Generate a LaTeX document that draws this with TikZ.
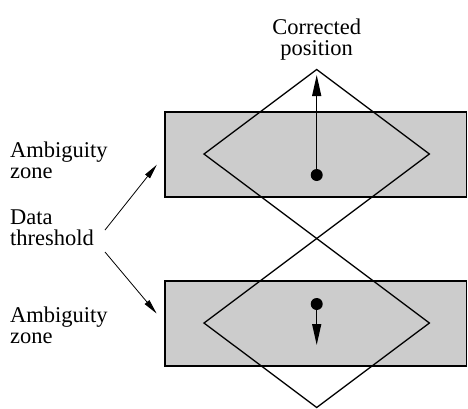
\documentclass[tikz,border=0pt]{standalone}
\usepackage{fontspec}
\setmainfont{Liberation Serif}
\usetikzlibrary{arrows.meta,calc}
\begin{document}
\begin{tikzpicture}[x=1pt,y=-1pt,
  lbl/.style={inner sep=0pt,align=left,font=\fontsize{22.5}{21}\selectfont},
  zone/.style={draw=black,fill=zonegray,line width=1.4pt},
  edge/.style={draw=black,line width=1.3pt,line join=miter},
  dotarrow/.style={line width=1.3pt,-{Triangle[length=21pt,width=9pt]}},
  thin/.style={line width=0.8pt,-{Triangle[length=15pt,width=6pt]}},
  spot/.style={circle,fill=black,inner sep=0pt,minimum size=12pt}]
\definecolor{zonegray}{RGB}{204,204,204}
\useasboundingbox (0,0) rectangle (468,408);
% zones
\draw[zone] (165,112) rectangle (466.5,197);
\draw[zone] (165,281) rectangle (466.5,366);
\coordinate (r1w) at (165,154.5);
\coordinate (r2w) at (165,323.5);
% diamond vertices
\coordinate (top) at (316.7,69.5);
\coordinate (l1) at (204,154);
\coordinate (r1) at (429.4,154);
\coordinate (mid) at (316.7,238.5);
\coordinate (l2) at (204,323);
\coordinate (r2) at (429.4,323);
\coordinate (bot) at (316.7,407.5);
\draw[edge] (top) -- (l1) -- (mid) -- (r1) -- cycle;
\draw[edge] (mid) -- (l2) -- (bot) -- (r2) -- cycle;
% dots and arrows
\node[spot] (d1) at (316.7,175) {};
\node[spot] (d2) at (316.7,304) {};
\coordinate (t1) at (316.7,75);
\coordinate (t2) at (316.7,345);
\draw[dotarrow] (d1.center) -- (t1);
\draw[dotarrow] (d2.center) -- (t2);
% labels
\node[lbl,align=center,anchor=north] (corr) at (316.7,19) {Corrected\\position};
\node[lbl,anchor=north west] (amb1) at (10,141.5) {Ambiguity\\zone};
\node[lbl,anchor=north west] (data) at (10,210) {Data\\threshold};
\node[lbl,anchor=north west] (amb2) at (10,306.5) {Ambiguity\\zone};
\coordinate (s1) at (105,230);
\coordinate (s2) at (105,252);
\draw[thin,shorten >=13pt] (s1) -- (r1w);
\draw[thin,shorten >=13pt] (s2) -- (r2w);
\end{tikzpicture}
\end{document}
